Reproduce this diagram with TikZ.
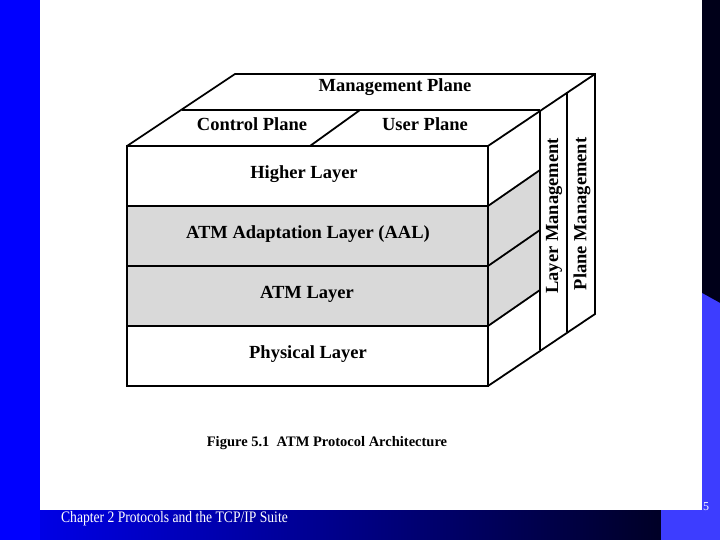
\documentclass[tikz,border=0pt]{standalone}
\usepackage{fontspec}
\setmainfont{Liberation Serif}
\begin{document}
\begin{tikzpicture}[x=1pt,y=-1pt,
  edge/.style={draw=black,line width=1.8pt,line join=miter},
  lbl/.style={font=\bfseries\fontsize{18.5}{20}\selectfont,inner sep=0pt}]
\useasboundingbox (0,0) rectangle (720,540);
% background
\fill[blue] (0,0) rectangle (720,540);
\fill[white] (40,0) rectangle (702,510);
\fill[black!90!blue] (702,0) rectangle (720,303);
\fill[left color=blue!90!black, right color=blue!15!black] (40,510) rectangle (661,540);
\fill[blue!76!white] (661,510) rectangle (720,540);
\fill[blue!76!white] (702,293) -- (720,303) -- (720,510) -- (702,510) -- cycle;
% coordinates
\coordinate (fa) at (127,146); \coordinate (fb) at (488,146);
\coordinate (fc) at (488,386); \coordinate (fd) at (127,386);
\coordinate (ma) at (182,110); \coordinate (mb) at (540,110);
\coordinate (ba) at (235,74); \coordinate (bb) at (595,74);
\coordinate (bd) at (595,314);
% gray layers
\fill[gray!30] (127,206) rectangle (488,326);
\fill[gray!30] (488,206) -- (540,170) -- (540,290) -- (488,326) -- cycle;
% front face
\draw[edge] (fa) rectangle (fc);
\draw[edge] (127,206) -- (488,206) -- (540,170);
\draw[edge] (127,266) -- (488,266) -- (540,230);
\draw[edge] (127,326) -- (488,326) -- (540,290);
% top and side
\draw[edge] (fa) -- (ba) -- (bb) -- (bd) -- (fc);
\draw[edge] (fb) -- (bb);
\draw[edge] (ma) -- (mb);
\draw[edge] (310,146) -- (360,110);
\draw[edge] (540,110) -- (540,350);
\draw[edge] (567,92) -- (567,332);
% labels
\node[lbl] (mp) at (395,87) {Management Plane};
\node[lbl] (cp) at (252,124) {Control Plane};
\node[lbl] (up) at (425,124) {User Plane};
\node[lbl] (hl) at (304,174) {Higher Layer};
\node[lbl] (aal) at (308,234) {ATM Adaptation Layer (AAL)};
\node[lbl] (atm) at (307,294) {ATM Layer};
\node[lbl] (phy) at (308,354) {Physical Layer};
\node[lbl,rotate=90] (lm) at (554,216) {Layer Management};
\node[lbl,rotate=90] (pm) at (582,214) {Plane Management};
\node[font=\bfseries\fontsize{14.5}{16}\selectfont,inner sep=0pt] (cap) at (327,443) {Figure 5.1\ \ ATM Protocol Architecture};
\node[text=white,font=\fontsize{16}{18}\selectfont,anchor=west,inner sep=0pt,xscale=0.85] (ch) at (61,519) {Chapter 2 Protocols and the TCP/IP Suite};
\node[text=white,font=\fontsize{12}{14}\selectfont,inner sep=0pt] (pg) at (706,507) {5};
\end{tikzpicture}
\end{document}
